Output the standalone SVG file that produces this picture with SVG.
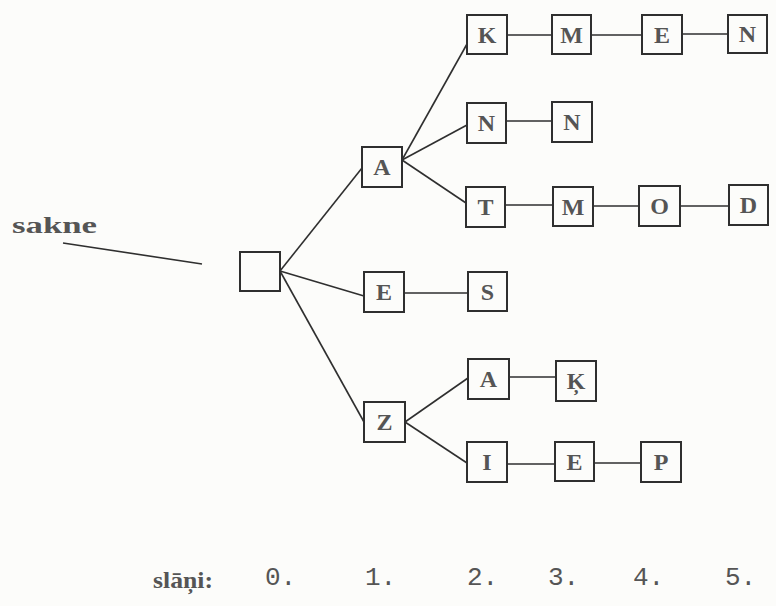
<svg xmlns="http://www.w3.org/2000/svg" width="776" height="606" viewBox="0 0 776 606">
  <style>
    .bg { fill: #fcfcfa; }
    .box { fill: none; stroke: #2f2f2f; stroke-width: 2; }
    .ltr { font-family: "Liberation Serif", "DejaVu Serif", serif; font-size: 24px; font-weight: bold; fill: #555; text-anchor: middle; }
    .edge { stroke: #2f2f2f; stroke-width: 1.6; fill: none; }
    .lbl { font-family: "Liberation Serif", "DejaVu Serif", serif; font-size: 24px; font-weight: bold; fill: #555; }
    .lvl { font-family: "Liberation Mono", "DejaVu Sans Mono", monospace; font-size: 26px; fill: #555; }
  </style>
  <rect class="bg" x="0" y="0" width="776" height="606"/>

  <!-- connectors -->
  <g id="connectors">
    <line class="edge" x1="63" y1="243" x2="202" y2="264"/>
    <line class="edge" x1="280" y1="271" x2="362" y2="168"/>
    <line class="edge" x1="280" y1="271" x2="364" y2="296"/>
    <line class="edge" x1="280" y1="271" x2="364" y2="422"/>
    <line class="edge" x1="402" y1="160" x2="467" y2="44"/>
    <line class="edge" x1="402" y1="160" x2="467" y2="125"/>
    <line class="edge" x1="402" y1="160" x2="466" y2="203"/>
    <line class="edge" x1="507" y1="35" x2="552" y2="35"/>
    <line class="edge" x1="591" y1="35" x2="642" y2="35"/>
    <line class="edge" x1="682" y1="34" x2="728" y2="34"/>
    <line class="edge" x1="506" y1="121" x2="552" y2="121"/>
    <line class="edge" x1="505" y1="205" x2="553" y2="205"/>
    <line class="edge" x1="593" y1="206" x2="639" y2="206"/>
    <line class="edge" x1="680" y1="206" x2="729" y2="206"/>
    <line class="edge" x1="404" y1="293" x2="468" y2="293"/>
    <line class="edge" x1="405" y1="422" x2="468" y2="378"/>
    <line class="edge" x1="405" y1="422" x2="467" y2="463"/>
    <line class="edge" x1="509" y1="377" x2="556" y2="377"/>
    <line class="edge" x1="507" y1="464" x2="555" y2="464"/>
    <line class="edge" x1="594" y1="463" x2="641" y2="463"/>
  </g>

  <!-- trie nodes -->
  <g id="root"><rect class="box" x="240" y="252" width="40" height="39"/></g>
  <g id="n-A"><rect class="box" x="362" y="147" width="40" height="40"/><text class="ltr" x="382" y="175">A</text></g>
  <g id="n-E"><rect class="box" x="364" y="272" width="40" height="40"/><text class="ltr" x="384" y="300">E</text></g>
  <g id="n-Z"><rect class="box" x="364" y="402" width="41" height="40"/><text class="ltr" x="384.5" y="430">Z</text></g>
  <g id="n-AK"><rect class="box" x="467" y="15" width="40" height="39"/><text class="ltr" x="487" y="43">K</text></g>
  <g id="n-AN"><rect class="box" x="467" y="103" width="39" height="40"/><text class="ltr" x="486.5" y="131">N</text></g>
  <g id="n-AT"><rect class="box" x="466" y="187" width="39" height="40"/><text class="ltr" x="485.5" y="215">T</text></g>
  <g id="n-ES"><rect class="box" x="468" y="272" width="39" height="39"/><text class="ltr" x="487.5" y="300">S</text></g>
  <g id="n-ZA"><rect class="box" x="468" y="359" width="41" height="40"/><text class="ltr" x="488.5" y="387">A</text></g>
  <g id="n-ZI"><rect class="box" x="467" y="442" width="40" height="40"/><text class="ltr" x="487" y="470">I</text></g>
  <g id="n-AKM"><rect class="box" x="552" y="15" width="39" height="39"/><text class="ltr" x="571.5" y="43">M</text></g>
  <g id="n-ANN"><rect class="box" x="552" y="102" width="40" height="40"/><text class="ltr" x="572" y="130">N</text></g>
  <g id="n-ATM"><rect class="box" x="553" y="187" width="40" height="39"/><text class="ltr" x="573" y="215">M</text></g>
  <g id="n-ZAK"><rect class="box" x="556" y="361" width="40" height="40"/><text class="ltr" x="576" y="389">Ķ</text></g>
  <g id="n-ZIE"><rect class="box" x="555" y="442" width="39" height="39"/><text class="ltr" x="574.5" y="470">E</text></g>
  <g id="n-AKME"><rect class="box" x="642" y="15" width="40" height="39"/><text class="ltr" x="662" y="43">E</text></g>
  <g id="n-ATMO"><rect class="box" x="639" y="186" width="41" height="40"/><text class="ltr" x="659.5" y="214">O</text></g>
  <g id="n-ZIEP"><rect class="box" x="641" y="442" width="40" height="40"/><text class="ltr" x="661" y="470">P</text></g>
  <g id="n-AKMEN"><rect class="box" x="728" y="15" width="39" height="38"/><text class="ltr" x="747.5" y="42">N</text></g>
  <g id="n-ATMOD"><rect class="box" x="729" y="185" width="39" height="40"/><text class="ltr" x="748.5" y="213">D</text></g>

  <!-- labels -->
  <text class="lbl" x="12" y="233" textLength="85" lengthAdjust="spacingAndGlyphs">sakne</text>
  <g id="levels">
    <text class="lbl" x="153" y="588" textLength="60" lengthAdjust="spacingAndGlyphs">slāņi:</text>
    <text class="lvl" x="265" y="585">0.</text>
    <text class="lvl" x="365" y="585">1.</text>
    <text class="lvl" x="467" y="585">2.</text>
    <text class="lvl" x="548" y="585" fill="#888">3.</text>
    <text class="lvl" x="633" y="585" fill="#777">4.</text>
    <text class="lvl" x="725" y="585" fill="#666">5.</text>
  </g>
</svg>
